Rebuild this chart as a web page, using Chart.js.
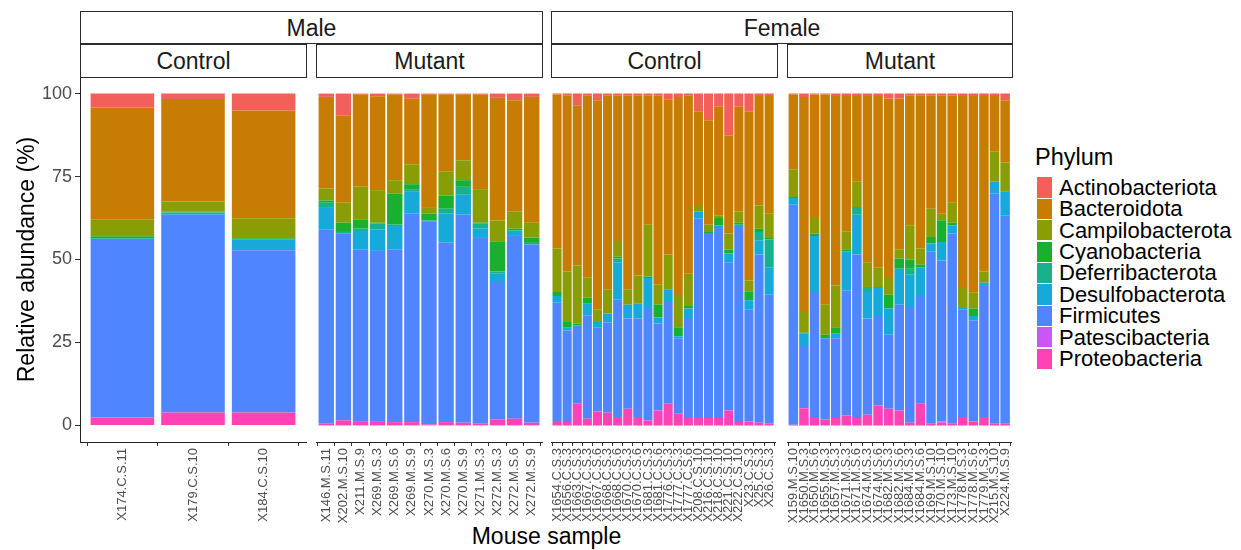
<!DOCTYPE html>
<html>
<head>
<meta charset="utf-8">
<script src="https://cdn.jsdelivr.net/npm/chart.js@4.4.1/dist/chart.umd.min.js"></script>
<style>
  html, body { margin:0; padding:0; background:#ffffff; }
  body { width:1241px; height:550px; overflow:hidden; position:relative; font-family:"Liberation Sans", Arial, Helvetica, sans-serif; }
  canvas { position:absolute; }
  .strip { position:absolute; box-sizing:border-box; border:1px solid #2b2b2b; background:#ffffff; text-align:center; color:#1a1a1a; font-size:23px; }
  .lkey { position:absolute; width:15px; }
  .ltext { position:absolute; font-size:22px; color:#000; white-space:nowrap; }
</style>
</head>
<body>
<div class="strip" style="left:80px;top:11px;width:463px;height:33px;line-height:33px;">Male</div>
<div class="strip" style="left:551px;top:11px;width:462px;height:33px;line-height:33px;">Female</div>
<div class="strip" style="left:80px;top:44px;width:227px;height:34px;line-height:33px;">Control</div>
<div class="strip" style="left:316px;top:44px;width:227px;height:34px;line-height:33px;">Mutant</div>
<div class="strip" style="left:551px;top:44px;width:227px;height:34px;line-height:33px;">Control</div>
<div class="strip" style="left:787px;top:44px;width:226px;height:34px;line-height:33px;">Mutant</div>
<div style="position:absolute;left:80px;width:933px;top:525px;text-align:center;font-size:23px;line-height:23px;color:#000;">Mouse sample</div>
<div style="position:absolute;left:1035px;top:146px;font-size:23.5px;line-height:23px;color:#000;">Phylum</div>
<div id="legend"></div>
<script>
// ---------- data ----------
const phyla = ["Actinobacteriota","Bacteroidota","Campilobacterota","Cyanobacteria","Deferribacterota","Desulfobacterota","Firmicutes","Patescibacteria","Proteobacteria"];
const phylumColors = ["#F35F5B","#C77D03","#8A9D05","#1AB02F","#19B08E","#16A9DA","#4F86FF","#CB56F5","#FF42B4"];

const maleControlSamples = ["X174.C.S.11","X179.C.S.10","X184.C.S.10"];
const maleMutantSamples = ["X146.M.S.11","X202.M.S.10","X211.M.S.9","X269.M.S.3","X269.M.S.6","X269.M.S.9","X270.M.S.3","X270.M.S.6","X270.M.S.9","X271.M.S.3","X272.M.S.3","X272.M.S.6","X272.M.S.9"];
const femaleControlSamples = ["X1654.C.S.3","X1656.C.S.3","X1663.C.S.3","X1667.C.S.3","X1667.C.S.6","X1668.C.S.3","X1668.C.S.6","X1670.C.S.3","X1670.C.S.6","X1681.C.S.3","X1681.C.S.6","X1776.C.S.3","X1777.C.S.3","X1777.C.S.6","X208.C.S.10","X216.C.S.10","X218.C.S.10","X221.C.S.10","X222.C.S.10","X23.C.S.3","X25.C.S.3","X26.C.S.3"];
const femaleMutantSamples = ["X159.M.S.10","X1650.M.S.3","X1650.M.S.6","X1655.M.S.3","X1657.M.S.3","X1671.M.S.3","X1671.M.S.6","X1674.M.S.3","X1674.M.S.6","X1682.M.S.3","X1682.M.S.6","X1684.M.S.3","X1684.M.S.6","X169.M.S.10","X170.M.S.10","X173.M.S.10","X1778.M.S.3","X1778.M.S.6","X1779.M.S.3","X215.M.S.10","X224.M.S.9"];

// values (%) in sample order: male control, male mutant, female control, female mutant
const actinobacteriota = [4.2,1.6,5.1,
  1.0,6.5,0.3,0.8,0.3,1.5,0.2,0.3,0.3,0.3,1.3,2.0,1.0,
  0.3,0.5,3.5,0.5,2.0,0.5,0.5,0.5,0.5,0.5,0.5,1.7,1.0,0.5,5.3,8.0,4.0,12.6,4.0,5.5,0.7,0.7,
  0.3,1.0,0.3,0.3,0.7,0.7,0.7,0.7,0.7,1.5,1.5,0.5,0.5,0.5,0.5,0.5,0.7,0.7,0.7,0.7,2.0];
const bacteroidota = [33.7,30.9,32.5,
  27.6,26.4,27.8,28.3,25.8,19.8,34.0,23.1,19.8,28.5,36.9,33.5,37.9,
  46.4,53.1,48.3,55.0,63.0,58.6,43.9,58.5,54.3,39.0,57.1,46.8,60.0,53.8,28.6,31.5,32.7,29.6,31.5,50.8,33.0,35.5,
  22.5,64.8,37.2,63.3,57.1,40.8,25.9,50.1,51.6,54.1,45.4,39.2,46.2,34.2,35.7,32.4,57.6,59.3,52.9,16.7,18.8];
const campilobacterota = [5.1,3.0,6.0,
  3.6,6.0,9.8,9.8,4.1,6.0,2.0,7.3,6.0,10.1,6.3,5.2,4.5,
  13.1,15.2,17.5,6.0,3.8,7.2,4.8,4.6,8.5,15.6,6.0,10.5,9.4,9.7,1.6,2.2,0.8,4.8,3.4,3.3,7.0,7.3,
  8.4,6.3,4.7,9.1,12.6,5.4,7.6,7.5,6.0,5.0,2.8,10.3,4.9,8.5,2.0,6.0,6.3,4.8,3.4,9.2,8.6];
const cyanobacteria = [0.6,0.3,0.3,
  0.7,2.8,2.8,0.3,9.3,1.5,2.0,4.0,2.0,0.3,9.1,0.5,1.6,
  1.2,1.8,0.5,1.8,0,0,0.5,0,0,0.5,3.9,0,2.7,0.8,0,0.3,2.2,1.2,0.6,2.7,1.0,0.5,
  0.3,0,0.7,1.0,2.0,0.6,0,0,0,4.2,3.1,2.8,0.7,2.0,6.5,0.8,0,2.2,0,0,0];
const deferribacterota = [0.2,0.1,0.2,
  1.3,0.5,1.0,1.7,0.4,0.6,0.3,1.5,2.4,1.5,0.7,0.5,0.5,
  0,0,0,0,0,0,1.1,0,0,0,0,0,0,0,0,0,0,0,0,0,2.5,8.3,
  0,0.3,0,0,0,0,2.3,1.5,0.3,0,0,1.8,0,0,0,0,0,0,0,0,0];
const desulfobacterota = [0.3,0.6,3.1,
  6.7,0,5.2,6.5,7.0,6.8,0,8.7,6.0,2.8,2.5,1.2,0,
  2.0,0.8,0,3.5,1.6,2.7,11.2,4.2,4.5,9.0,1.8,3.8,0.8,2.8,2.2,0,0.8,2.6,0.7,2.7,4.3,8.3,
  2.0,3.7,16.9,0,1.3,11.8,12.0,8.0,8.4,7.9,10.8,9.7,8.7,2.5,5.6,2.5,0.4,1.3,1.0,3.6,7.3];
const firmicutes = [53.5,59.6,48.9,
  58.6,56.3,51.8,51.3,52.1,62.8,61.2,54.1,62.7,56.0,41.4,55.1,53.7,
  35.7,27.6,23.7,31.2,25.4,27.2,35.5,27.2,29.7,33.9,26.2,30.7,22.6,30.2,60.1,55.8,57.3,44.7,58.8,33.8,50.7,38.9,
  66.3,18.7,38.0,24.5,24.1,37.7,49.0,29.0,27.0,22.3,31.9,34.9,32.5,51.8,48.5,57.3,32.5,30.5,39.5,69.3,62.8];
const patescibacteria = [0,0,0,
  0,0,0,0,0,0,0,0,0,0,0,0,0,
  0,0,0,0,0,0,0,0,0,0,0,0,0,0,0,0,0,0,0,0,0,0,
  0,0,0,0,0,0,0,0,0,0,0,0,0,0,0.4,0,0,0,0,0,0];
const proteobacteria = [2.4,3.9,3.9,
  0.5,1.5,1.3,1.3,1.0,1.0,0.3,1.0,0.8,0.5,1.8,2.0,0.8,
  1.3,1.0,6.5,2.0,4.2,3.8,2.5,5.0,2.5,1.5,4.5,6.5,3.5,2.2,2.2,2.2,2.2,4.5,1.0,1.2,0.8,0.5,
  0.2,5.2,2.2,1.8,2.2,3.0,2.5,3.2,6.0,5.0,4.5,0.8,6.5,0.5,0.8,0.5,2.5,1.2,2.5,0.5,0.5];

const yTickValues = [0,25,50,75,100];

// ---------- build ----------
const series = [actinobacteriota,bacteroidota,campilobacterota,cyanobacteria,deferribacterota,desulfobacterota,firmicutes,patescibacteria,proteobacteria];
const FONT = '"Liberation Sans", Arial, Helvetica, sans-serif';
const panels = [
  {samples: maleControlSamples, left: 80},
  {samples: maleMutantSamples, left: 316},
  {samples: femaleControlSamples, left: 551},
  {samples: femaleMutantSamples, left: 787}
];
const PW = 226, AREA_TOP = 77, TOPPAD = 20, XAXIS_H = 108, YAXIS_W = 80, PAD = 10;
const CANVAS_TOP = AREA_TOP - TOPPAD, H = 550 - CANVAS_TOP;

let offset = 0;
panels.forEach((p, k) => {
  const n = p.samples.length;
  const first = k === 0;
  const cl = first ? 0 : p.left - PAD;
  const cw = first ? p.left + PW + PAD : PW + 2 * PAD;
  const canvas = document.createElement('canvas');
  canvas.width = cw; canvas.height = H;
  canvas.style.left = cl + 'px'; canvas.style.top = CANVAS_TOP + 'px';
  canvas.style.width = cw + 'px'; canvas.style.height = H + 'px';
  document.body.appendChild(canvas);
  const start = offset; offset += n;
  const datasets = phyla.map((name, j) => ({
    label: name,
    data: series[j].slice(start, start + n).map((v, i) => ({x: i, y: v})),
    backgroundColor: phylumColors[j],
    borderWidth: 0,
    barPercentage: 0.9,
    categoryPercentage: 1
  })).reverse();

  const yScale = {
    display: first, stacked: true, min: -5, max: 105,
    afterBuildTicks: s => { s.ticks = yTickValues.map(v => ({value: v})); },
    ticks: {font: {size: 18, family: FONT}, color: '#4D4D4D', padding: 3},
    grid: {drawOnChartArea: false, drawTicks: true, tickLength: 5, color: '#333333'},
    border: {display: true, color: '#222222', width: 1},
    title: {display: true, text: 'Relative abundance (%)', color: '#000000',
            font: {size: 23, family: FONT}, padding: {top: 14, bottom: 0}}
  };
  if (first) yScale.afterFit = s => { s.width = YAXIS_W; };

  new Chart(canvas, {
    type: 'bar',
    data: {datasets},
    options: {
      responsive: false,
      animation: false,
      devicePixelRatio: 1,
      layout: {padding: {left: first ? 0 : PAD, right: PAD, top: TOPPAD, bottom: 0}},
      plugins: {legend: {display: false}, tooltip: {enabled: false}},
      scales: {
        x: {
          type: 'linear', stacked: true, min: -0.6, max: n - 0.4, offset: false,
          afterBuildTicks: s => { s.ticks = p.samples.map((_, i) => ({value: i})); },
          afterFit: s => { s.height = XAXIS_H; },
          ticks: {autoSkip: false, minRotation: 90, maxRotation: 90, padding: 2,
                  font: {size: 13, family: FONT}, color: '#4D4D4D',
                  callback: v => p.samples[v]},
          grid: {drawOnChartArea: false, drawTicks: true, tickLength: 4, color: '#333333'},
          border: {display: true, color: '#222222', width: 1}
        },
        y: yScale
      }
    }
  });
});

// legend
const legend = document.getElementById('legend');
phyla.forEach((name, i) => {
  const top = 177.3 + i * 21.4;
  const key = document.createElement('div');
  key.className = 'lkey';
  key.style.left = '1037px'; key.style.top = top + 'px'; key.style.height = '20.4px';
  key.style.background = phylumColors[i];
  legend.appendChild(key);
  const t = document.createElement('div');
  t.className = 'ltext';
  t.style.left = '1059px'; t.style.top = (top - 0.5) + 'px'; t.style.lineHeight = '21.4px';
  t.textContent = name;
  legend.appendChild(t);
});
</script>
</body>
</html>
